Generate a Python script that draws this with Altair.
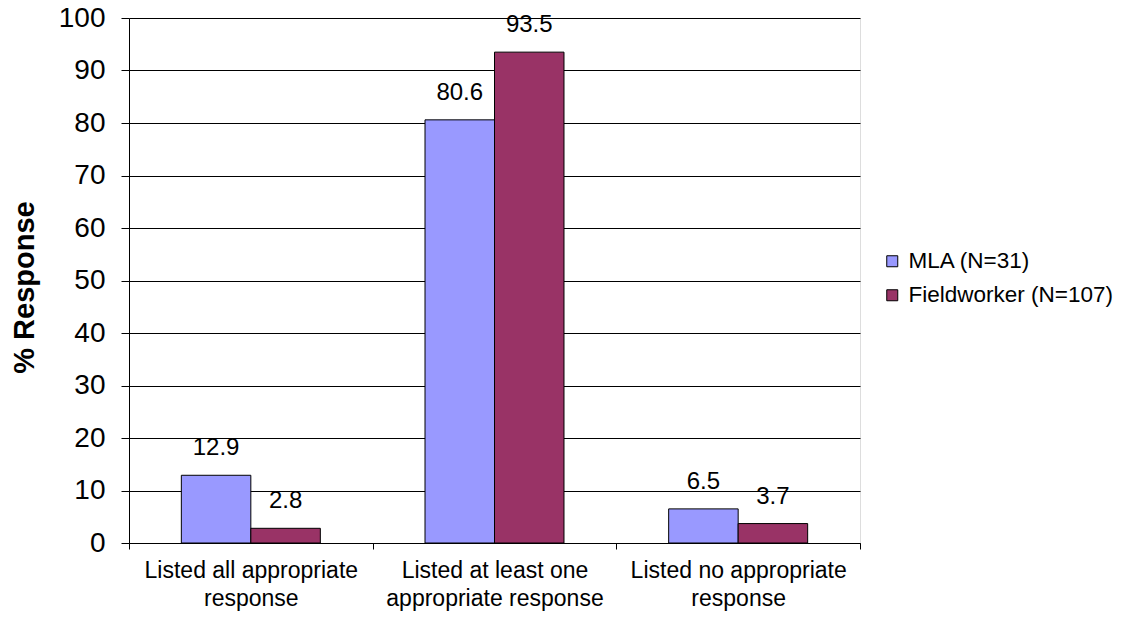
import json
import altair as alt
import pandas as pd

cat_lines = [
    ["Listed all appropriate", "response"],
    ["Listed at least one", "appropriate response"],
    ["Listed no appropriate", "response"],
]
categories = [" ".join(l) for l in cat_lines]
series = ["MLA (N=31)", "Fieldworker (N=107)"]
mla = [12.9, 80.6, 6.5]
field = [2.8, 93.5, 3.7]
colors = ["#9999FF", "#993366"]
y_ticks = list(range(0, 101, 10))

rows = []
for i, c in enumerate(categories):
    rows.append({"cat": c, "series": series[0], "value": mla[i]})
    rows.append({"cat": c, "series": series[1], "value": field[i]})
df = pd.DataFrame(rows)

FONT = "Liberation Sans"
label_map = json.dumps({c: l for c, l in zip(categories, cat_lines)})

x = alt.X(
    "cat:N",
    sort=categories,
    scale=alt.Scale(paddingInner=0, paddingOuter=0),
    axis=alt.Axis(
        title=None,
        tickBand="extent",
        labelExpr=f"{label_map}[datum.label]",
        labelFont=FONT,
        labelFontSize=23,
        labelColor="black",
        labelLineHeight=28,
        labelPadding=10,
        labelAngle=0,
        labelLimit=0,
        tickSize=6,
        tickColor="black",
        domainColor="black",
        grid=False,
        labelBaseline="top",
    ),
)
xoff = alt.XOffset(
    "series:N",
    sort=series,
    scale=alt.Scale(paddingInner=0, paddingOuter=0.753),
)
y = alt.Y(
    "value:Q",
    scale=alt.Scale(domain=[0, 100], nice=False),
    axis=alt.Axis(
        values=y_ticks,
        title="% Response",
        titleFont=FONT,
        titleFontSize=29,
        titleFontWeight="bold",
        titleColor="black",
        titleAngle=-90,
        titleAlign="center",
        titleBaseline="alphabetic",
        titleX=-96,
        titleY=269,
        labelFont=FONT,
        labelFontSize=28,
        labelColor="black",
        labelPadding=16,
        tickSize=8,
        tickColor="black",
        domainColor="black",
        gridColor="black",
        gridWidth=1,
    ),
)
color = alt.Color(
    "series:N",
    sort=series,
    scale=alt.Scale(domain=series, range=colors),
    legend=alt.Legend(
        title=None,
        orient="none",
        legendX=752,
        legendY=232,
        symbolType="square",
        symbolSize=121,
        symbolStrokeColor="black",
        symbolStrokeWidth=1,
        labelFont=FONT,
        labelFontSize=22.5,
        labelColor="black",
        labelOffset=5,
        labelLimit=0,
        rowPadding=11,
    ),
)

bars = alt.Chart(df).mark_bar(stroke="black", strokeWidth=1).encode(
    x=x, xOffset=xoff, y=y, color=color
)
labels = alt.Chart(df).mark_text(
    font=FONT, fontSize=24, color="black", baseline="alphabetic", dy=-20
).encode(
    x=alt.X("cat:N", sort=categories),
    xOffset=alt.XOffset("series:N", sort=series),
    y="value:Q",
    text=alt.Text("value:Q", format=".1f"),
)

chart = (
    alt.layer(bars, labels)
    .properties(
        width=731,
        height=525,
        autosize=alt.AutoSizeParams(type="none"),
        padding={"left": 121, "top": 10, "right": 262, "bottom": 70},
    )
    .configure_view(stroke=None)
    .configure(background="white")
)

chart.save("out.html", embed_options={"renderer": "svg", "actions": False})
